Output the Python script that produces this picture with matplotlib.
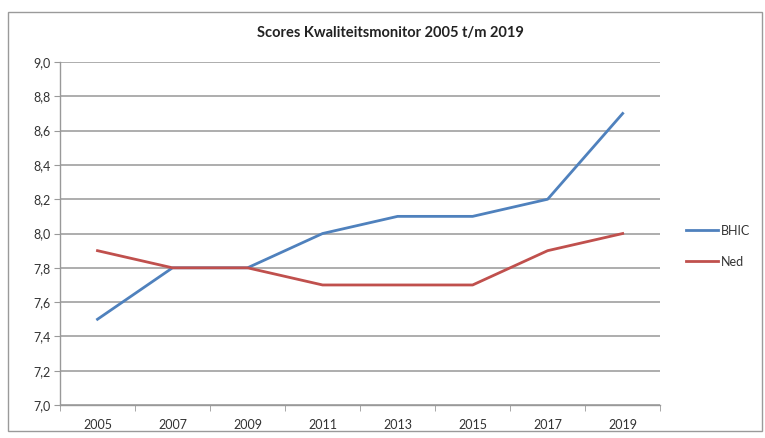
import matplotlib
matplotlib.use("Agg")
import matplotlib.pyplot as plt
from matplotlib.patches import Rectangle
from matplotlib.ticker import FuncFormatter

jaren = ["2005", "2007", "2009", "2011", "2013", "2015", "2017", "2019"]
bhic = [7.5, 7.8, 7.8, 8.0, 8.1, 8.1, 8.2, 8.7]
ned = [7.9, 7.8, 7.8, 7.7, 7.7, 7.7, 7.9, 8.0]
yticks = [7.0, 7.2, 7.4, 7.6, 7.8, 8.0, 8.2, 8.4, 8.6, 8.8, 9.0]

plt.rcParams['font.family'] = ['Lato', 'DejaVu Sans']

fig = plt.figure(figsize=(7.65, 4.38), dpi=100)
ax = fig.add_axes([0.0784, 0.0753, 0.7846, 0.7831])

x = list(range(len(jaren)))
ax.plot(x, bhic, color='#4F81BD', lw=2.0, label='BHIC', solid_joinstyle='round')
ax.plot(x, ned, color='#C0504D', lw=2.0, label='Ned', solid_joinstyle='round')

ax.set_xlim(-0.5, len(jaren) - 0.5)
ax.set_ylim(7.0, 9.0)
ax.set_yticks(yticks)
ax.yaxis.set_major_formatter(FuncFormatter(lambda v, p: ("%.1f" % v).replace(".", ",")))
ax.set_xticks(x)
ax.set_xticklabels(jaren)
# tick marks tussen de categorieen
ax.set_xticks([i - 0.5 for i in range(len(jaren) + 1)], minor=True)
ax.tick_params(axis='x', which='major', length=0, pad=10, labelsize=9, labelcolor='#333333')
ax.tick_params(axis='x', which='minor', length=4, color='#999999', direction='out')
ax.tick_params(axis='y', length=4, color='#999999', labelsize=9, labelcolor='#333333', pad=3)

ax.grid(axis='y', color='#a0a0a0', lw=1.2)
ax.set_axisbelow(True)
for s in ['top', 'right']:
    ax.spines[s].set_visible(False)
for s in ['left', 'bottom']:
    ax.spines[s].set_color('#999999')
    ax.spines[s].set_linewidth(1.0)

fig.text(0.51, 0.925, "Scores Kwaliteitsmonitor 2005 t/m 2019", ha='center', va='center',
         fontsize=10.5, fontweight='bold', color='#222222')

fig.legend(loc='center left', bbox_to_anchor=(0.882, 0.438), frameon=False,
           fontsize=9, handlelength=2.6, handletextpad=0.2, labelspacing=1.5,
           labelcolor='#333333')

fig.patches.append(Rectangle((0.011, 0.015), 0.985, 0.958, transform=fig.transFigure,
                             fill=False, edgecolor='#9a9a9a', lw=1.0))

plt.savefig("out.png", dpi=100)
